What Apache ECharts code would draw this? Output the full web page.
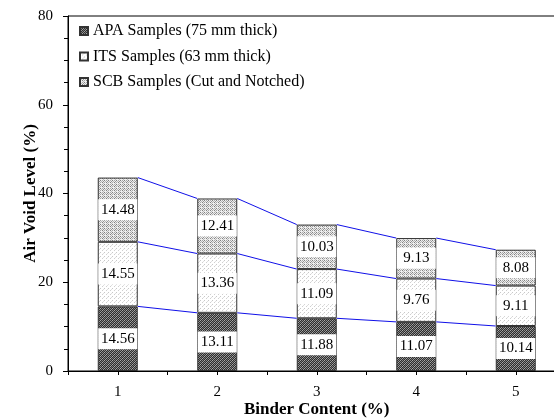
<!DOCTYPE html>
<html>
<head>
<meta charset="utf-8">
<script src="https://cdn.jsdelivr.net/npm/echarts@6/dist/echarts.min.js"></script>
<style>html,body{margin:0;padding:0;background:#fff;}#c{width:554px;height:419px;}</style>
</head>
<body>
<div id="c"></div>
<script>
// ---- data ----
const categories = ['1', '2', '3', '4', '5'];
const seriesNames = ['APA Samples (75 mm thick)', 'ITS Samples (63 mm thick)', 'SCB Samples (Cut and Notched)'];
const apa = [14.56, 13.11, 11.88, 11.07, 10.14];
const its = [14.55, 13.36, 11.09, 9.76, 9.11];
const scb = [14.48, 12.41, 10.03, 9.13, 8.08];
const yMin = 0, yMax = 80, yInterval = 20;
const xTitle = 'Binder Content (%)';
const yTitle = 'Air Void Level (%)';

// ---- patterns ----
function makePattern(size, base, dots) {
  const c = document.createElement('canvas');
  c.width = size; c.height = size;
  const g = c.getContext('2d');
  g.fillStyle = base; g.fillRect(0, 0, size, size);
  dots.forEach(d => { g.fillStyle = d[2]; g.fillRect(d[0], d[1], 1, 1); });
  return { image: c, repeat: 'repeat' };
}
const patAPA = makePattern(4, '#2e2e2e', [[0,0,'#aaa'],[2,0,'#888'],[1,1,'#777'],[3,1,'#999'],[0,2,'#888'],[2,2,'#aaa'],[1,3,'#999'],[3,3,'#777']]);
const patITS = makePattern(4, '#ffffff', [[0,0,'#c8c8c8'],[2,2,'#d0d0d0'],[3,1,'#e0e0e0']]);
const patSCB = makePattern(4, '#eeeeee', [[0,0,'#808080'],[2,0,'#a8a8a8'],[1,1,'#b8b8b8'],[2,2,'#808080'],[0,2,'#a8a8a8'],[3,3,'#b8b8b8'],[3,1,'#959595']]);

const FONT = "'Liberation Serif', 'Times New Roman', serif";
const lists = [apa, its, scb];
const pats = [patAPA, patITS, patSCB];

// cumulative levels for connector lines
const cum = [];
let run = categories.map(() => 0);
lists.forEach(l => { run = run.map((v, i) => v + l[i]); cum.push(run.slice()); });
const lineData = [];
cum.forEach(level => {
  for (let i = 0; i < categories.length - 1; i++) lineData.push([i, i + 1, level[i], level[i + 1]]);
});

const BAR_W = 40;
const labelStyle = {
  show: true, position: 'inside', color: '#000', fontFamily: FONT, fontSize: 15,
  backgroundColor: '#fff', width: 39, height: 21, lineHeight: 21, align: 'center',
  formatter: p => Number(p.value).toFixed(2)
};

const barSeries = lists.map((l, k) => ({
  name: seriesNames[k], type: 'bar', stack: 'total', barWidth: BAR_W,
  data: l,
  itemStyle: { color: pats[k], borderColor: '#333', borderWidth: 1 },
  label: labelStyle, emphasis: { disabled: true }, z: 2
}));

const lineSeries = {
  type: 'custom', silent: true, z: 3,
  encode: { x: [0, 1], y: [2, 3] },
  data: lineData,
  renderItem: (params, api) => {
    const p1 = api.coord([api.value(0), api.value(2)]);
    const p2 = api.coord([api.value(1), api.value(3)]);
    return { type: 'line', shape: { x1: p1[0] + BAR_W / 2, y1: p1[1], x2: p2[0] - BAR_W / 2, y2: p2[1] },
      style: { stroke: '#1010e8', lineWidth: 1 } };
  }
};

const chart = echarts.init(document.getElementById('c'), null, { renderer: 'canvas' });
chart.setOption({
  animation: false,
  backgroundColor: '#fff',
  grid: { left: 68, top: 16, width: 497.5, bottom: 48, outerBoundsMode: 'none', containLabel: false,
    show: true, borderColor: '#000', borderWidth: 1, backgroundColor: 'transparent' },
  legend: {
    orient: 'vertical', left: 79, top: 23, padding: 0, itemWidth: 8, itemHeight: 8, itemGap: 9.5,
    icon: 'rect', data: seriesNames, selectedMode: false,
    textStyle: { fontFamily: FONT, fontSize: 16, color: '#000' }
  },
  xAxis: [{
    type: 'category', data: categories, boundaryGap: true,
    name: xTitle, nameLocation: 'middle', nameGap: 30, nameMoveOverlap: false,
    nameTextStyle: { fontFamily: FONT, fontSize: 17, fontWeight: 'bold', color: '#000' },
    axisLine: { lineStyle: { color: '#000', width: 1 } },
    axisTick: { show: true, inside: false, length: 4, interval: 0, lineStyle: { color: '#000' } },
    axisLabel: { fontFamily: FONT, fontSize: 15, color: '#000', margin: 14 },
    splitLine: { show: false }
  }, {
    type: 'category', data: categories, boundaryGap: true, position: 'bottom', offset: 0,
    axisLine: { show: false },
    axisTick: { show: true, alignWithLabel: true, inside: false, length: 4, lineStyle: { color: '#000' } },
    axisLabel: { show: false }, splitLine: { show: false }
  }],
  yAxis: {
    type: 'value', min: yMin, max: yMax, interval: yInterval,
    name: yTitle, nameLocation: 'middle', nameGap: 29, nameMoveOverlap: false,
    nameTextStyle: { fontFamily: FONT, fontSize: 17, fontWeight: 'bold', color: '#000' },
    axisLine: { show: true, lineStyle: { color: '#000', width: 1 } },
    axisTick: { show: true, length: 5, lineStyle: { color: '#000' } },
    minorTick: { show: true, splitNumber: 4, length: 4, lineStyle: { color: '#000' } },
    axisLabel: { fontFamily: FONT, fontSize: 15, color: '#000', margin: 15 },
    splitLine: { show: false }
  },
  series: [...barSeries, lineSeries]
});
</script>
</body>
</html>
